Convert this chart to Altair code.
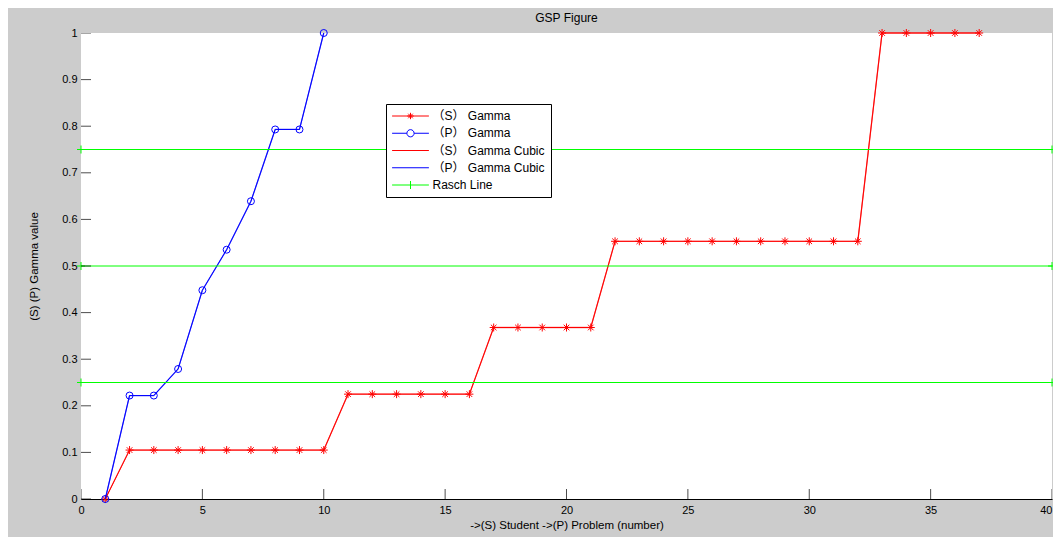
import altair as alt
import pandas as pd

# ---------------- data ----------------
x_s = [1, 2, 3, 4, 5, 6, 7, 8, 9, 10, 11, 12, 13, 14, 15, 16, 17, 18, 19,
       20, 21, 22, 23, 24, 25, 26, 27, 28, 29, 30, 31, 32, 33, 34, 35, 36, 37]
s_gamma = [0.0, 0.105, 0.105, 0.105, 0.105, 0.105, 0.105, 0.105, 0.105, 0.105,
           0.225, 0.225, 0.225, 0.225, 0.225, 0.225,
           0.368, 0.368, 0.368, 0.368, 0.368,
           0.553, 0.553, 0.553, 0.553, 0.553, 0.553, 0.553, 0.553, 0.553, 0.553, 0.553,
           1.0, 1.0, 1.0, 1.0, 1.0]
x_p = [1, 2, 3, 4, 5, 6, 7, 8, 9, 10]
p_gamma = [0.0, 0.222, 0.222, 0.279, 0.448, 0.535, 0.639, 0.793, 0.793, 1.0]
rasch_x = [0, 40]
rasch_levels = [0.25, 0.5, 0.75]
x_ticks = [0, 5, 10, 15, 20, 25, 30, 35, 40]
y_ticks = [0, 0.1, 0.2, 0.3, 0.4, 0.5, 0.6, 0.7, 0.8, 0.9, 1]
x_domain = [0, 40]
y_domain = [0, 1]
series_names = ["（S） Gamma", "（P） Gamma", "（S） Gamma Cubic", "（P） Gamma Cubic", "Rasch Line"]
series_colors = ["#ff0000", "#0000ff", "#ff0000", "#0000ff", "#00ff00"]

title_text = "GSP Figure"
x_title = "->(S) Student ->(P) Problem (number)"
y_title = "(S) (P) Gamma value"

# ---------------- tables ----------------
s_df = pd.DataFrame({"x": x_s, "y": s_gamma})
p_df = pd.DataFrame({"x": x_p, "y": p_gamma})
rasch_df = pd.DataFrame(
    [{"x": xv, "y": lv, "level": str(lv)} for lv in rasch_levels for xv in rasch_x]
)
xt_df = pd.DataFrame({"x": x_ticks})
yt_df = pd.DataFrame({"y": y_ticks})
legend_df = pd.DataFrame({"series": series_names})

# ---------------- marker / legend glyphs ----------------
STAR = "M0,-1V1M-1,0H1M-0.7,-0.7L0.7,0.7M-0.7,0.7L0.7,-0.7"
PLUS = "M-1,0H1M0,-1V1"
LINE = "M-4.6,0H4.6"
leg_star = "M0,-0.8V0.8M-0.8,0H0.8M-0.57,-0.57L0.57,0.57M-0.57,0.57L0.57,-0.57"
leg_circle = "M-4.6,0H-0.9M0.9,0H4.6M0.9,0A0.9,0.9,0,1,1,-0.9,0A0.9,0.9,0,1,1,0.9,0"
leg_plus = "M0,-1V1"
legend_paths = [LINE + leg_star, leg_circle, LINE, LINE, LINE + leg_plus]

FONT = "Liberation Sans, Arial, Noto Sans CJK SC, sans-serif"

x_scale = alt.Scale(domain=x_domain, nice=False, zero=False)
y_scale = alt.Scale(domain=y_domain, nice=False, zero=False)

x_axis = alt.Axis(values=x_ticks, grid=False, ticks=False, tickSize=0, labelPadding=5,
                  titlePadding=4, domainColor="black", labelFlush=False, format="~g",
                  labelAlign={"condition": {"test": "datum.value == 40", "value": "right"},
                              "value": "center"})
y_axis = alt.Axis(values=y_ticks, grid=False, ticks=False, tickSize=0, labelPadding=4,
                  titlePadding=22, domainColor="black", format="~g", labelFlush=False)

X = alt.X("x:Q", scale=x_scale, axis=x_axis, title=x_title)
Y = alt.Y("y:Q", scale=y_scale, axis=y_axis, title=y_title)

plot_bg = alt.Chart(pd.DataFrame({"k": [0]})).mark_rect(color="white").encode(
    x=alt.XDatum(x_domain[0], scale=x_scale, axis=x_axis, title=x_title),
    x2=alt.X2Datum(x_domain[1]),
    y=alt.YDatum(y_domain[0], scale=y_scale, axis=y_axis, title=y_title),
    y2=alt.Y2Datum(y_domain[1]),
)

s_line = alt.Chart(s_df).mark_line(color="#ff0000", strokeWidth=1.3, opacity=0.6).encode(x=X, y=Y)
s_pts = alt.Chart(s_df).mark_point(shape=STAR, size=64, color="#ff0000", strokeWidth=1,
                                    filled=False, opacity=1).encode(x=X, y=Y)
p_line = alt.Chart(p_df).mark_line(color="#0000ff", strokeWidth=1.3, opacity=0.6).encode(x=X, y=Y)
p_pts = alt.Chart(p_df).mark_point(shape="circle", size=49, color="#0000ff", strokeWidth=1,
                                    filled=False, opacity=1).encode(x=X, y=Y)
s_cubic = alt.Chart(s_df).mark_line(color="#ff0000", strokeWidth=1).encode(x=X, y=Y)
p_cubic = alt.Chart(p_df).mark_line(color="#0000ff", strokeWidth=1).encode(x=X, y=Y)
r_line = alt.Chart(rasch_df).mark_line(color="#00ff00", strokeWidth=1).encode(
    x=X, y=Y, detail="level:N")
r_pts = alt.Chart(rasch_df).mark_point(shape=PLUS, size=64, color="#00ff00", strokeWidth=1,
                                        filled=False, opacity=1).encode(x=X, y=Y)

x_tick_marks = alt.Chart(xt_df).mark_tick(orient="vertical", size=20, thickness=1,
                                          color="black", clip=True).encode(
    x=X, y=alt.YDatum(y_domain[0], scale=y_scale, axis=y_axis, title=y_title))
y_tick_marks = alt.Chart(yt_df).mark_tick(orient="horizontal", size=20, thickness=1,
                                          color="black", clip=True).encode(
    y=Y, x=alt.XDatum(x_domain[0], scale=x_scale, axis=x_axis, title=x_title))

leg = alt.Legend(orient="none", legendX=305, legendY=71, title=None, direction="vertical",
                 symbolSize=64, symbolStrokeWidth=1, symbolOffset=12.5, labelOffset=16,
                 padding=6, rowPadding=5.25, strokeColor="black", fillColor="white",
                 labelFont=FONT, labelFontSize=12, labelColor="black", labelLimit=300,
                 cornerRadius=0)
legend_layer = alt.Chart(legend_df).transform_filter(
    alt.datum.series == "__none__").mark_point(filled=False, strokeWidth=1, opacity=1).encode(
    color=alt.Color("series:N", scale=alt.Scale(domain=series_names, range=series_colors),
                    legend=leg),
    shape=alt.Shape("series:N", scale=alt.Scale(domain=series_names, range=legend_paths),
                    legend=leg),
)

chart = alt.layer(
    plot_bg, s_line, s_pts, p_line, p_pts, s_cubic, p_cubic, r_line, r_pts,
    x_tick_marks, y_tick_marks, legend_layer
).properties(
    width=971, height=466,
    padding={"left": 73, "top": 25, "right": 1, "bottom": 38},
    autosize=alt.AutoSizeParams(type="none"),
    background="#cccccc",
    title=alt.Title(title_text, fontSize=12, font=FONT, fontWeight="normal", color="black",
                    anchor="middle", frame="group", baseline="bottom", offset=-10),
).configure_view(
    stroke=None, fill="white"
).configure_axis(
    labelFont=FONT, labelFontSize=11, labelColor="black",
    titleFont=FONT, titleFontSize=11.5, titleColor="black", titleFontWeight="normal",
    domainColor="black", domainWidth=1
)

chart.save("out.html", embed_options={"renderer": "svg", "actions": False})
